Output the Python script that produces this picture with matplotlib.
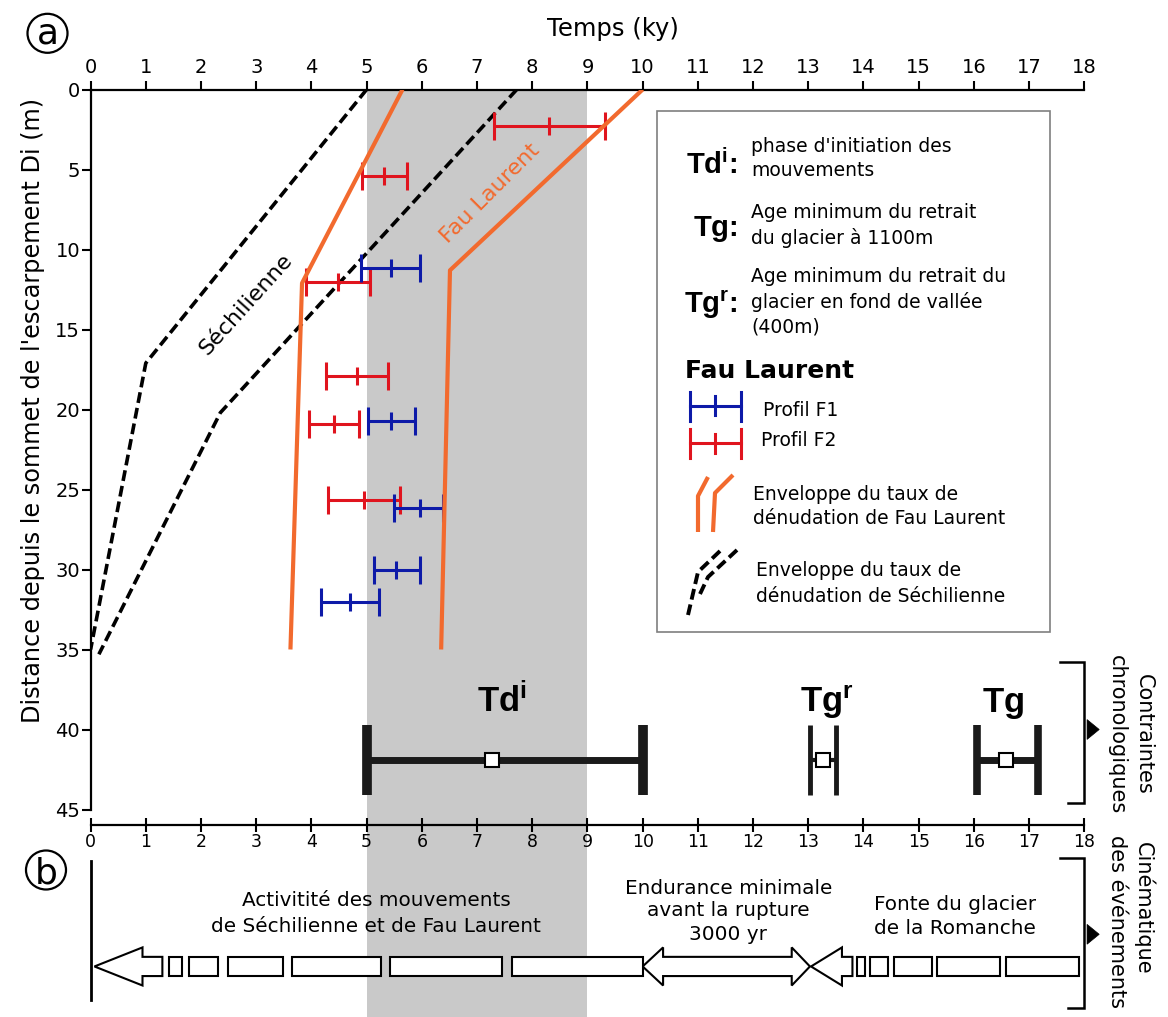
import matplotlib
matplotlib.use('Agg')
import matplotlib.pyplot as plt
from matplotlib.patches import Polygon, Rectangle, Ellipse
from matplotlib.lines import Line2D

plt.rcParams['font.family'] = ['DejaVu Sans']
plt.rcParams['mathtext.fontset'] = 'custom'
plt.rcParams['mathtext.bf'] = 'Liberation Sans:bold'
plt.rcParams['mathtext.rm'] = 'Liberation Sans'

# ---------------- data ----------------
x_ticks = list(range(0, 19))
y_ticks = list(range(0, 46, 5))

sech_env_inner_t = [5.0, 1.0, 0.0]
sech_env_inner_d = [0.0, 17.1, 35.0]
sech_env_outer_t = [7.72, 2.35, 0.15]
sech_env_outer_d = [0.0, 20.2, 35.3]

fl_env_inner_t = [5.65, 3.83, 3.62]
fl_env_inner_d = [0.0, 12.1, 35.0]
fl_env_outer_t = [10.0, 6.51, 6.35]
fl_env_outer_d = [0.0, 11.3, 35.0]

f1_depth = [11.13, 20.72, 26.13, 30.06, 32.06]
f1_age = [5.45, 5.45, 5.97, 5.54, 4.69]
f1_min = [4.89, 5.02, 5.49, 5.14, 4.17]
f1_max = [5.97, 5.87, 6.39, 5.97, 5.22]

f2_depth = [2.31, 5.39, 12.02, 17.93, 20.88, 25.63]
f2_age = [8.30, 5.31, 4.48, 4.83, 4.41, 4.96]
f2_min = [7.30, 4.91, 3.90, 4.26, 3.96, 4.30]
f2_max = [9.31, 5.74, 5.07, 5.38, 4.87, 5.61]

chrono_labels = [r'$\mathbf{Td^{i}}$', r'$\mathbf{Tg^{r}}$', r'$\mathbf{Tg}$']
chrono_label_x = [7.45, 13.33, 16.53]
chrono_age = [7.28, 13.27, 16.59]
chrono_min = [5.0, 13.03, 16.05]
chrono_max = [10.0, 13.51, 17.16]
chrono_depth = 41.9

window_start, window_end = 5, 9

activity_arrow = [0.07, 0.94, 1.30]          # tip, head back, tail
activity_boxes_start = [1.42, 1.79, 2.48, 3.65, 5.43, 7.64]
activity_boxes_end = [1.65, 2.30, 3.48, 5.26, 7.45, 10.0]
endurance_arrow = [10.0, 10.37, 12.70, 13.03]
melt_arrow = [13.05, 13.61, 13.80]
melt_boxes_start = [13.88, 14.12, 14.55, 15.33, 16.58]
melt_boxes_end = [14.03, 14.45, 15.24, 16.48, 17.91]

ORANGE = '#F26A2E'
RED = '#E0141E'
BLUE = '#0D1AA8'
GREY = '#C9C9C9'

# ---------------- figure ----------------
W, H = 1168, 1017
fig = plt.figure(figsize=(W / 100, H / 100), dpi=100)
X0, X18 = 90.6, 1084.3
Y0, PPM = 89.5, 16.0
ax = fig.add_axes([X0 / W, 0, (X18 - X0) / W, 1 - Y0 / H])
ax.set_xlim(0, 18)
ax.set_ylim((H - Y0) / PPM, 0)


def P(x, y):
    return (x / W, 1 - y / H)


for s in ['right', 'bottom']:
    ax.spines[s].set_visible(False)
ax.spines['left'].set_bounds(0, 45)
ax.spines['left'].set_linewidth(1.6)
ax.spines['top'].set_linewidth(1.6)
ax.xaxis.set_ticks_position('top')
ax.set_xticks(x_ticks)
ax.set_yticks(y_ticks)
ax.tick_params(axis='both', direction='out', length=6.5, width=1.5, labelsize=14, pad=2.5)
ax.tick_params(axis='y', pad=1)
ax.patch.set_alpha(0)

ax.axvspan(window_start, window_end, color=GREY, zorder=0, lw=0)

# envelopes
ax.plot(sech_env_inner_t, sech_env_inner_d, color='black', lw=2.6, dashes=(3, 1.4), zorder=2)
ax.plot(sech_env_outer_t, sech_env_outer_d, color='black', lw=2.6, dashes=(3, 1.4), zorder=2)
ax.plot(fl_env_inner_t, fl_env_inner_d, color=ORANGE, lw=3, zorder=5, solid_capstyle='butt')
ax.plot(fl_env_outer_t, fl_env_outer_d, color=ORANGE, lw=3, zorder=5, solid_capstyle='butt')

# error bars
for age, mn, mx, dep, col in [(f2_age, f2_min, f2_max, f2_depth, RED),
                             (f1_age, f1_min, f1_max, f1_depth, BLUE)]:
    xerr = [[a - m for a, m in zip(age, mn)], [m - a for a, m in zip(age, mx)]]
    ax.errorbar(age, dep, xerr=xerr, fmt='none', ecolor=col, elinewidth=2.2,
                capsize=10, capthick=2.2, zorder=4)
    ax.plot(age, dep, ls='none', marker='|', ms=13.5, mew=2.2, color=col, zorder=4)

ax.text(2.82, 13.4, 'Séchilienne', rotation=48, ha='center', va='center',
        rotation_mode='anchor', fontsize=16, zorder=6)
ax.text(7.23, 6.5, 'Fau Laurent', rotation=45, ha='center', va='center',
        rotation_mode='anchor', fontsize=16, color=ORANGE, zorder=6)

# chronological constraints
cap_lw = [7, 3.5, 5.5]
bar_lw = [5, 3, 5]
for i in range(3):
    ax.errorbar([chrono_age[i]], [chrono_depth],
                xerr=[[chrono_age[i] - chrono_min[i]], [chrono_max[i] - chrono_age[i]]],
                fmt='none', ecolor='#1a1a1a',
                elinewidth=bar_lw[i], capsize=25.5, capthick=cap_lw[i], zorder=4)
    ax.plot([chrono_age[i]], [chrono_depth], ls='none', marker='s', ms=10,
            mfc='white', mec='black', mew=1.5, zorder=5)
    ax.text(chrono_label_x[i], 38.9, chrono_labels[i], ha='center', va='baseline',
            fontsize=25, zorder=6)

# bottom time axis
sec = ax.secondary_xaxis((H - 824.5) / (H - Y0))
sec.set_xticks(x_ticks)
sec.tick_params(direction='inout', length=10, width=1.5, labelsize=12.5, pad=1)
for s in sec.spines.values():
    s.set_linewidth(1.6)

# panel b
yc, sh, hh = 54.81, 0.6, 1.19
ax.plot([0, 0], [48.2, 56.9], color='black', lw=2, clip_on=False, zorder=3)


def left_arrow(tip, hb, tail):
    return [(tip, yc), (hb, yc - hh), (hb, yc - sh), (tail, yc - sh),
            (tail, yc + sh), (hb, yc + sh), (hb, yc + hh)]


style = dict(facecolor='white', edgecolor='black', lw=1.5, zorder=4, joinstyle='miter')
ax.add_patch(Polygon(left_arrow(*activity_arrow), closed=True, **style))
ax.add_patch(Polygon(left_arrow(*melt_arrow), closed=True, **style))
a, b, c, d = endurance_arrow
ax.add_patch(Polygon([(a, yc), (b, yc - hh), (b, yc - sh), (c, yc - sh), (c, yc - hh), (d, yc),
                      (c, yc + hh), (c, yc + sh), (b, yc + sh), (b, yc + hh)], closed=True, **style))
for s0, s1 in list(zip(activity_boxes_start, activity_boxes_end)) + list(zip(melt_boxes_start, melt_boxes_end)):
    ax.add_patch(Rectangle((s0, yc - sh), s1 - s0, 2 * sh, **style))

tb = dict(ha='center', va='center', fontsize=14.4, zorder=6)
ax.text(5.17, (900 - Y0) / PPM, 'Activitité des mouvements', **tb)
ax.text(5.17, (927 - Y0) / PPM, 'de Séchilienne et de Fau Laurent', **tb)
ax.text(11.55, (888 - Y0) / PPM, 'Endurance minimale', **tb)
ax.text(11.55, (911 - Y0) / PPM, 'avant la rupture', **tb)
ax.text(11.55, (935 - Y0) / PPM, '3000 yr', **tb)
ax.text(15.65, (905 - Y0) / PPM, 'Fonte du glacier', **tb)
ax.text(15.65, (929 - Y0) / PPM, 'de la Romanche', **tb)

# right brackets
for top, bot, tip in [(35.8, 44.6, 40.0), (48.05, 57.4, 52.8)]:
    ax.plot([17.56, 18.0, 18.0, 17.71], [top, top, bot, bot], color='black', lw=1.8,
            clip_on=False, zorder=4, solid_joinstyle='miter')
    ax.add_patch(Polygon([(18.05, tip - 0.62), (18.27, tip), (18.05, tip + 0.62)], closed=True,
                         facecolor='black', edgecolor='black', lw=0.5, clip_on=False, zorder=4))

rt = dict(rotation=270, ha='center', va='center', fontsize=15, rotation_mode='anchor')
ax.text(19.08, 40.3, 'Contraintes', clip_on=False, **rt)
ax.text(18.59, 40.3, 'chronologiques', clip_on=False, **rt)
ax.text(19.08, 51.2, 'Cinématique', clip_on=False, **rt)
ax.text(18.59, 52.0, 'des événements', clip_on=False, **rt)

# titles
fig.text(*P(613, 29), 'Temps (ky)', ha='center', va='center', fontsize=17.5)
fig.text(*P(33, 410), "Distance depuis le sommet de l'escarpement Di (m)", rotation=90,
         ha='center', va='center', fontsize=17.3)

# circled panel letters
for cx, cy, letter, base in [(47.5, 33.3, 'a', 43.0), (46, 870, 'b', 883)]:
    fig.add_artist(Ellipse(P(cx, cy), 40 / W, 39 / H, transform=fig.transFigure,
                           fill=False, lw=1.6, edgecolor='black'))
    fig.text(*P(cx, base), letter, ha='center', va='baseline', fontsize=26)

# ---------------- legend ----------------
fig.add_artist(Rectangle(P(657, 632), (1050 - 657) / W, (632 - 111) / H, transform=fig.transFigure,
                         facecolor='white', edgecolor='#7f7f7f', lw=1.2, zorder=5))
lt = dict(ha='left', va='center', fontsize=13.5, zorder=6)
sym = dict(ha='right', va='baseline', fontsize=21, fontweight='bold', family='Liberation Sans', zorder=6)
fig.text(*P(737, 174), r'$\mathbf{Td^{i}}$:', **sym)
fig.text(*P(751, 146), "phase d'initiation des", **lt)
fig.text(*P(751, 171), 'mouvements', **lt)
fig.text(*P(737, 236), r'$\mathbf{Tg}$:', **sym)
fig.text(*P(751, 213), 'Age minimum du retrait', **lt)
fig.text(*P(751, 238), 'du glacier à 1100m', **lt)
fig.text(*P(737, 313), r'$\mathbf{Tg^{r}}$:', **sym)
fig.text(*P(751, 277), 'Age minimum du retrait du', **lt)
fig.text(*P(751, 302), 'glacier en fond de vallée', **lt)
fig.text(*P(751, 327), '(400m)', **lt)
fig.text(*P(685, 371), 'Fau Laurent', ha='left', va='center', fontsize=18, fontweight='bold', zorder=6)
fig.text(*P(763, 411), 'Profil F1', **lt)
fig.text(*P(761, 441), 'Profil F2', **lt)
fig.text(*P(753, 494), 'Enveloppe du taux de', **lt)
fig.text(*P(753, 518), 'dénudation de Fau Laurent', **lt)
fig.text(*P(756, 571), 'Enveloppe du taux de', **lt)
fig.text(*P(756, 596), 'dénudation de Séchilienne', **lt)


def fline(xs, ys, **kw):
    pts = [P(x, y) for x, y in zip(xs, ys)]
    fig.add_artist(Line2D([p[0] for p in pts], [p[1] for p in pts],
                          transform=fig.transFigure, zorder=6, **kw))


for yy, col in [(406, BLUE), (443, RED)]:
    fline([690, 741], [yy, yy], color=col, lw=2.2)
    fline([690, 690], [yy - 14.5, yy + 14.5], color=col, lw=2.2)
    fline([741, 741], [yy - 14.5, yy + 14.5], color=col, lw=2.2)
    fline([715, 715], [yy - 9.5, yy + 9.5], color=col, lw=2.2)
fline([708, 698, 698], [477, 496, 532], color=ORANGE, lw=3, solid_capstyle='butt')
fline([733, 715, 713], [475, 493, 532], color=ORANGE, lw=3, solid_capstyle='butt')
fline([720, 698, 688], [551, 572, 615], color='black', lw=2.8, dashes=(2.8, 1.3))
fline([737, 708, 700], [550, 577, 594], color='black', lw=2.8, dashes=(2.8, 1.3))

fig.savefig('out.png', dpi=100)
